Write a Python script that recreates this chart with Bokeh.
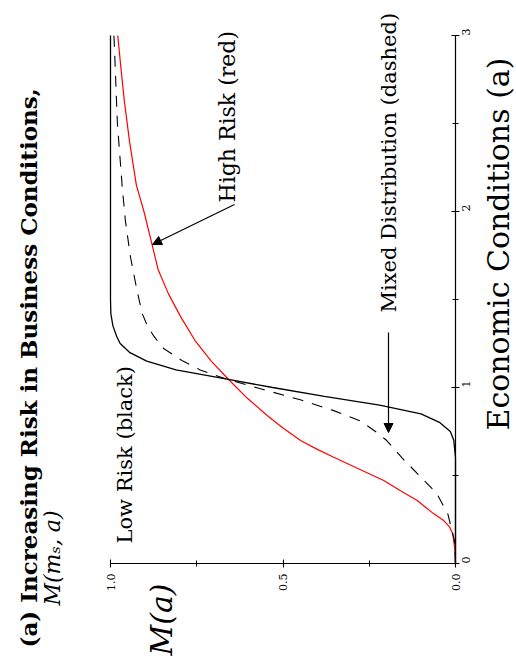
import math
from bokeh.plotting import figure
from bokeh.models import Range1d, FixedTicker, PrintfTickFormatter, Label, Arrow, NormalHead
from bokeh.embed import file_html
from bokeh.resources import INLINE

# ---- data ----
# Low risk (black, solid): M(a) against economic conditions a
a_low = [0.0, 0.60, 0.70, 0.75, 0.80, 0.85, 0.90, 0.95, 1.00, 1.05, 1.10, 1.15, 1.20, 1.25, 1.29, 1.35, 1.42, 1.50, 2.00, 3.00]
m_low = [0.0, 0.0, 0.005, 0.015, 0.045, 0.10, 0.22, 0.38, 0.53, 0.67, 0.81, 0.895, 0.945, 0.972, 0.982, 0.993, 0.999, 1.0, 1.0, 1.0]

# High risk (red)
a_high = [0.0, 0.083, 0.169, 0.21, 0.244, 0.282, 0.32, 0.358, 0.41, 0.472, 0.54, 0.604, 0.65, 0.699, 0.77, 0.841, 0.94,
          1.044, 1.15, 1.267, 1.40, 1.532, 1.67, 1.816, 2.0, 2.15, 2.4, 2.63, 2.82, 3.0]
m_high = [0.0, 0.002, 0.008, 0.018, 0.034, 0.063, 0.087, 0.111, 0.157, 0.208, 0.283, 0.353, 0.402, 0.449, 0.500, 0.546, 0.604,
          0.657, 0.708, 0.755, 0.796, 0.832, 0.862, 0.880, 0.903, 0.925, 0.945, 0.960, 0.970, 0.979]

# Mixed distribution (black, dashed)
a_mix = [0.0, 0.13, 0.28, 0.40, 0.49, 0.60, 0.70, 0.75, 0.81, 0.87, 0.93, 0.99, 1.045, 1.10, 1.15, 1.22, 1.29, 1.35, 1.42,
         1.55, 1.74, 1.95, 2.14, 2.50, 3.00]
m_mix = [0.0, 0.003, 0.022, 0.055, 0.10, 0.155, 0.20, 0.232, 0.275, 0.355, 0.45, 0.56, 0.66, 0.74, 0.79, 0.845, 0.874, 0.893, 0.908,
         0.923, 0.942, 0.957, 0.966, 0.980, 0.990]

m_ticks = [0.0, 0.5, 1.0]
m_minor = [0.25, 0.75]
a_ticks = [0, 1, 2, 3]
a_minor = [0.5, 1.5, 2.5]
m_bounds = (0.0, 1.0)
a_bounds = (0.0, 3.0)

title_text = "(a) Increasing Risk in Business Conditions,"
subtitle_text = "M(m\u209b, a)"
m_label = "M(a)"
a_label = "Economic Conditions (a)"
low_text = "Low Risk (black)"
high_text = "High Risk (red)"
mix_text = "Mixed Distribution (dashed)"

FONT = "DejaVu Serif"
W, H = 516, 662
# page pixel of M=0 / M=1 and a=0 / a=3 (frame fills the whole page, axes are fixed inside)
PX_M0, PX_PER_M = 455.0, 345.0
PY_A0, PY_PER_A = 563.0, 176.0

def M(px):
    return (PX_M0 - px) / PX_PER_M

def A(py):
    return (PY_A0 - py) / PY_PER_A

p = figure(width=W, height=H, output_backend="svg", toolbar_location=None,
           x_range=Range1d(M(0), M(W)), y_range=Range1d(A(H), A(0)),
           y_axis_location="right",
           min_border_left=0, min_border_right=0, min_border_top=0, min_border_bottom=0)
p.outline_line_color = None
p.grid.visible = False
p.background_fill_color = "white"
p.border_fill_color = "white"

p.line(m_high, a_high, line_color="red", line_width=1.2)
p.line(m_mix, a_mix, line_color="black", line_width=1.1, line_dash="11 9")
p.line(m_low, a_low, line_color="black", line_width=1.3)

for ax, ticks, minor, fmt, bnds in ((p.xaxis[0], m_ticks, m_minor, "%.1f", m_bounds),
                                     (p.yaxis[0], a_ticks, a_minor, "%d", a_bounds)):
    ax.fixed_location = 0
    ax.bounds = bnds
    ax.ticker = FixedTicker(ticks=ticks, minor_ticks=minor)
    ax.formatter = PrintfTickFormatter(format=fmt)
    ax.major_label_orientation = math.pi / 2
    ax.major_tick_in = 4
    ax.major_tick_out = 4
    ax.minor_tick_in = 3
    ax.minor_tick_out = 3
    ax.axis_line_width = 1.2
    ax.major_tick_line_width = 1.1
    ax.minor_tick_line_width = 1.0
    ax.axis_line_color = "black"
    ax.major_tick_line_color = "black"
    ax.minor_tick_line_color = "black"
    ax.major_label_text_font = FONT
    ax.major_label_text_font_size = "11px"
    ax.major_label_text_color = "black"
    ax.major_label_standoff = 6

def lab(px, py, text, size, style="normal"):
    p.add_layout(Label(x=M(px), y=A(py), text=text, angle=math.pi / 2, text_align="left",
                       text_baseline="middle", text_font=FONT, text_font_size=size,
                       text_font_style=style, text_color="black"))

lab(124, 543, low_text, "21px")
lab(227, 202, high_text, "22px")
lab(388, 312, mix_text, "21px")
lab(28, 647, title_text, "23px", "bold")
lab(52, 605, subtitle_text, "22px", "italic")
lab(161, 655, m_label, "30px", "italic")
lab(498, 430, a_label, "30px")

head = dict(size=9, fill_color="black", line_color="black", line_width=1)
p.add_layout(Arrow(end=NormalHead(**head), x_start=M(234), y_start=A(204), x_end=M(152), y_end=A(244),
                   line_color="black", line_width=1.2))
p.add_layout(Arrow(end=NormalHead(**head), x_start=M(388), y_start=A(332), x_end=M(388), y_end=A(432),
                   line_color="black", line_width=1.2))

open("out.html", "w").write(file_html(p, INLINE))
